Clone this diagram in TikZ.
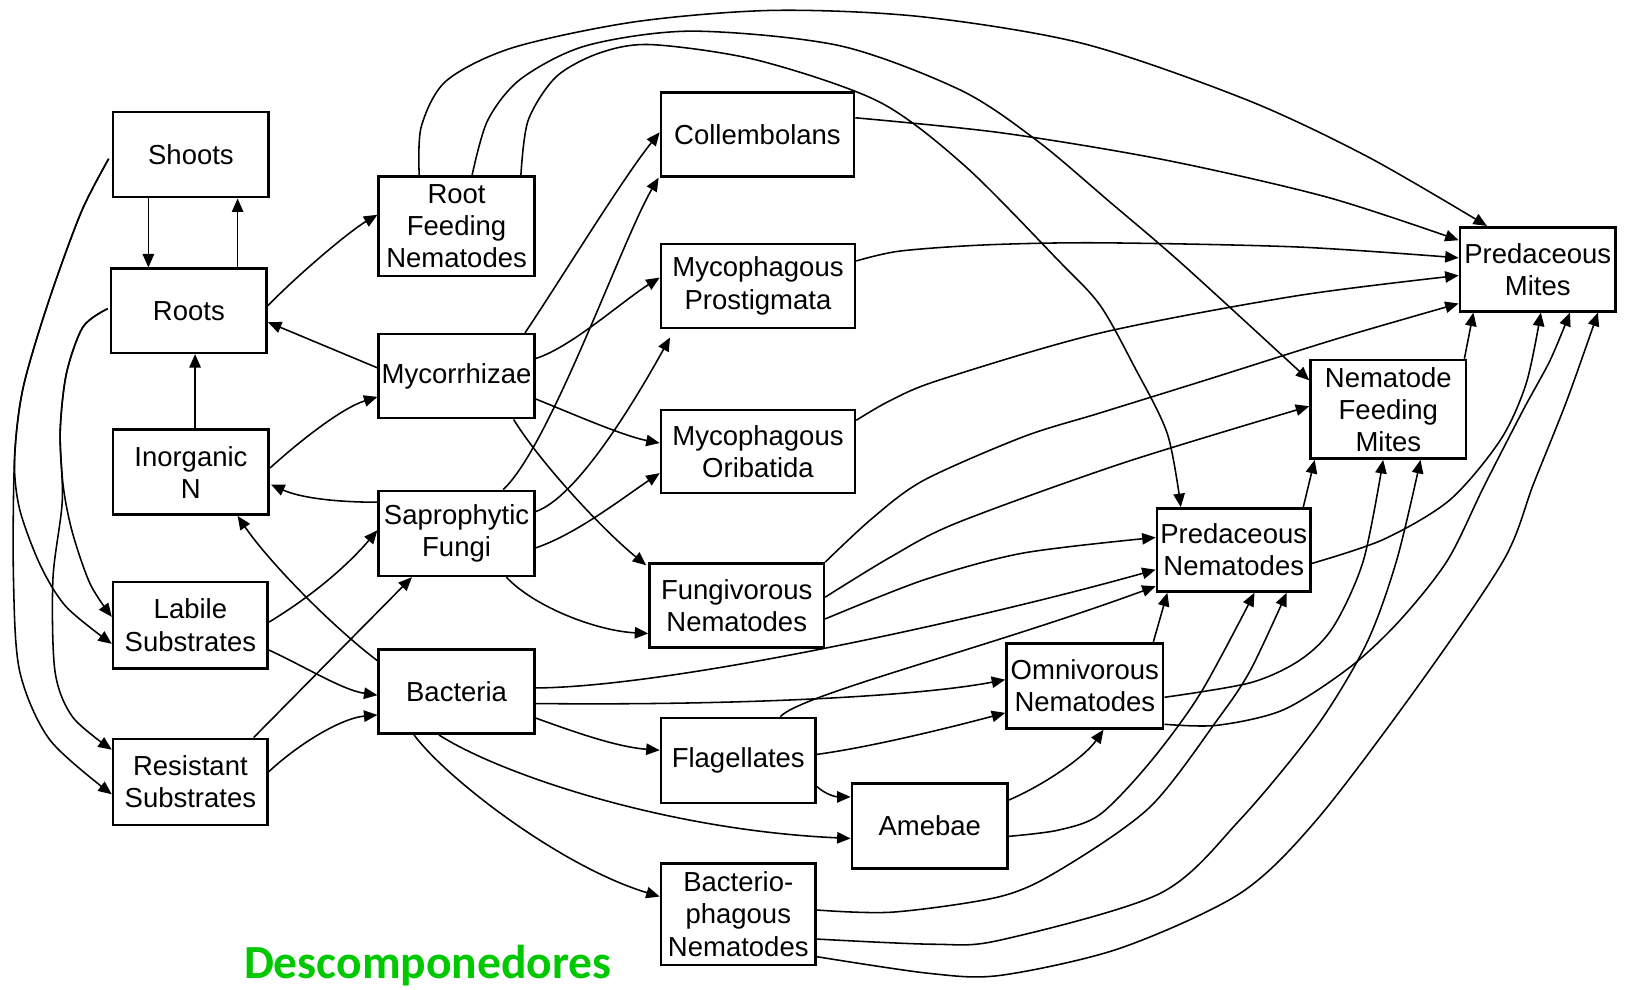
\documentclass[tikz,border=0pt]{standalone}
\usepackage{fontspec}
\setmainfont{Liberation Sans}
\newfontfamily\greenfont{Carlito}
\usetikzlibrary{arrows.meta,calc}
\definecolor{dgreen}{RGB}{0,200,0}
\begin{document}
\begin{tikzpicture}[x=1pt,y=-1pt,
  box/.style={draw, line width=2.5pt, rectangle, inner sep=0pt, align=center,
    font=\fontsize{26.5}{31}\selectfont},
  link/.style={line width=1.5pt, -{Triangle[length=13pt,width=11pt]}},
  lbl/.style={anchor=base west, inner sep=0pt, text=dgreen,
    font=\greenfont\bfseries\fontsize{45.8}{50}\selectfont}
]
\useasboundingbox (0,0) rectangle (1568,954);

% ---------- nodes ----------
\node[box, minimum width=150pt, minimum height=82pt] (Shoots) at (184,149) {Shoots};
\node[box, minimum width=150pt, minimum height=81pt] (Roots) at (182,299.5) {Roots};
\node[box, minimum width=150pt, minimum height=82pt] (InN) at (184,455) {Inorganic\\N};
\node[box, minimum width=149pt, minimum height=83pt] (Labile) at (183.5,602.5) {Labile\\Substrates};
\node[box, minimum width=149pt, minimum height=83pt] (Resist) at (183.5,753.5) {Resistant\\Substrates};
\node[box, minimum width=150pt, minimum height=96pt] (RFN) at (440,218) {Root\\Feeding\\Nematodes};
\node[box, minimum width=150pt, minimum height=81pt] (Myc) at (440,362.5) {Mycorrhizae};
\node[box, minimum width=150pt, minimum height=82pt] (SF) at (440,514) {Saprophytic\\Fungi};
\node[box, minimum width=150pt, minimum height=81pt] (Bact) at (440,666.5) {Bacteria};
\node[box, minimum width=186pt, minimum height=81pt] (Coll) at (730,129.5) {Collembolans};
\node[box, minimum width=187pt, minimum height=81pt] (MP) at (730.5,275.5) {Mycophagous\\Prostigmata};
\node[box, minimum width=187pt, minimum height=80pt] (MO) at (730.5,435) {Mycophagous\\Oribatida};
\node[box, minimum width=168pt, minimum height=81pt] (Fung) at (710,583.5) {Fungivorous\\Nematodes};
\node[box, minimum width=149pt, minimum height=82pt] (Flag) at (711.5,733) {Flagellates};
\node[box, minimum width=150pt, minimum height=82pt] (Ameb) at (896,796) {Amebae};
\node[box, minimum width=149pt, minimum height=98pt] (BN) at (711.5,881) {Bacterio-\\phagous\\Nematodes};
\node[box, minimum width=151pt, minimum height=82pt] (Omni) at (1045.5,661) {Omnivorous\\Nematodes};
\node[box, minimum width=148pt, minimum height=80pt] (PN) at (1189,530) {Predaceous\\Nematodes};
\node[box, minimum width=150pt, minimum height=95pt] (NFM) at (1338,394.5) {Nematode\\Feeding\\Mites};
\node[box, minimum width=150pt, minimum height=81pt] (PM) at (1482,259.5) {Predaceous\\Mites};
\node[lbl] (Desc) at (235,943) {Descomponedores};

% ---------- left column ----------
\draw[link] ($(Shoots.south)+(-41,0)$) -- ($(Roots.north)+(-39,0)$);
\draw[link] ($(Roots.north)+(47,0)$) -- ($(Shoots.south)+(45,0)$);
\draw[link] ($(InN.north)+(4,0)$) -- ($(Roots.south)+(6,0)$);
\draw[link] ($(Roots.east)+(0,-5)$) .. controls (290,262) and (338,222) .. ($(RFN.west)+(0,-11)$);
\draw[link] ($(Myc.west)+(0,-8)$) -- ($(Roots.east)+(0,11)$);
\draw[link] ($(InN.east)+(0,-4)$) .. controls (290,424) and (330,393) .. ($(Myc.west)+(0,20)$);
\draw[link] ($(SF.west)+(0,-30)$) .. controls (325,484) and (290,480) .. ($(InN.east)+(1,12)$);
\draw[link] ($(Bact.north west)+(0,12)$) .. controls (318,602) and (258,540) .. ($(InN.south)+(45,0)$);
\draw[link] ($(Labile.east)+(0,-3)$) .. controls (300,575) and (335,545) .. ($(SF.west)+(0,-3)$);
\draw[link] ($(Labile.east)+(0,24)$) .. controls (295,643) and (330,665) .. ($(Bact.west)+(0,3.5)$);
\draw[link] ($(Resist.north)+(61,0)$) -- ($(SF.south)+(-43,0)$);
\draw[link] ($(Resist.east)+(0,-10)$) .. controls (290,715) and (330,692) .. ($(Bact.west)+(0,22.5)$);

% long curves on the far left
\draw[link] plot[smooth] coordinates {($(Shoots.west)+(-3,4)$) (78,205) (46,293) (22,375) (14,443) (19,491) (39,545) (64,585) ($(Labile.west)+(0,18)$)};
\draw[link] plot[smooth] coordinates {($(Shoots.west)+(-3,4)$) (78,205) (46,293) (22,375) (14,443) (13,558) (19,647) (48,713) ($(Resist.west)+(0,12)$)};
\draw[link] plot[smooth] coordinates {($(Roots.west)+(-2,-2)$) (80,315) (64,360) (58,416) (61,469) (70,514) (87,563) ($(Labile.west)+(0,-8)$)};
\draw[link] plot[smooth] coordinates {($(Roots.west)+(-2,-2)$) (80,315) (64,360) (58,416) (60,483) (51,558) (53,647) (70,691) ($(Resist.west)+(0,-31)$)};

% ---------- fungi / mycorrhizae to consumers ----------
\draw[link] ($(Myc.north)+(66,0)$) .. controls (540,270) and (600,172) .. ($(Coll.west)+(0,-2)$);
\draw[link] ($(SF.north)+(45,0)$) .. controls (530,430) and (600,230) .. ($(Coll.south west)+(-1,0)$);
\draw[link] ($(Myc.east)+(0,-17)$) .. controls (550,335) and (600,290) .. ($(MP.west)+(0,-8)$);
\draw[link] ($(SF.east)+(0,-21)$) .. controls (555,480) and (610,390) .. ($(MP.south west)+(10,8)$);
\draw[link] ($(Myc.east)+(0,22)$) .. controls (550,398) and (600,420) .. ($(MO.west)+(0,-8)$);
\draw[link] ($(SF.east)+(0,14)$) .. controls (555,515) and (600,480) .. ($(MO.west)+(0,21)$);
\draw[link] ($(Myc.south)+(55,0)$) .. controls (520,445) and (580,510) .. ($(Fung.north west)+(-2,3)$);
\draw[link] ($(SF.south)+(48,0)$) .. controls (515,585) and (575,608) .. ($(Fung.west)+(0,27)$);

% ---------- bacteria ----------
\draw[link] ($(Bact.east)+(0,25.5)$) .. controls (555,706) and (595,720) .. ($(Flag.west)+(0,-10)$);
\draw[link] ($(Bact.south)+(-17,0)$) .. controls (480,745) and (640,800) .. ($(Ameb.west)+(0,12)$);
\draw[link] ($(Bact.south)+(-41,0)$) .. controls (430,750) and (540,835) .. ($(BN.west)+(0,-17)$);
\draw[link] ($(Bact.east)+(0,11.5)$) .. controls (700,680) and (880,672) .. ($(Omni.west)+(0,-6)$);
\draw[link] ($(Bact.east)+(0,-3.5)$) .. controls (650,662) and (950,595) .. ($(PN.west)+(0,19)$);

% ---------- protozoa ----------
\draw[link] ($(Flag.north)+(40.5,0)$) .. controls (770,670) and (950,625) .. ($(PN.west)+(0,35)$);
\draw[link] ($(Flag.east)+(0,-6)$) .. controls (840,720) and (920,700) .. ($(Omni.west)+(0,26)$);
\draw[link] ($(Flag.east)+(0,25)$) .. controls (796,766) and (806,768) .. ($(Ameb.west)+(0,-28)$);
\draw[link] ($(Ameb.east)+(0,-25)$) .. controls (1005,757) and (1045,730) .. ($(Omni.south)+(18,0)$);
\draw[link] plot[smooth] coordinates {($(Ameb.east)+(0,10)$) (1020,800) (1060,785) (1108,735) (1157,668) ($(PN.south)+(20,0)$)};

% ---------- bacteriophagous nematodes ----------
\draw[link] plot[smooth] coordinates {($(BN.east)+(0,-4)$) (861,879) (964,864) (1022,838) (1108,778) (1173,694) (1205,646) ($(PN.south)+(51,0)$)};
\draw[link] plot[smooth] coordinates {($(BN.east)+(0,24)$) (900,910) (964,906) (1118,861) (1195,790) (1269,700) (1317,620) (1346,540) ($(NFM.south)+(31,0)$)};
\draw[link] plot[smooth] coordinates {($(BN.east)+(0,41)$) (895,938) (964,940) (1079,914) (1195,861) (1269,790) (1366,662) (1449,540) (1478,466) (1510,386) ($(PM.south)+(58,0)$)};

% ---------- omnivorous / predaceous nematodes ----------
\draw[link] plot[smooth] coordinates {($(Omni.east)+(0,11)$) (1205,658) (1253,636) (1285,604) (1314,540) ($(NFM.south)+(-5,0)$)};
\draw[link] plot[smooth] coordinates {($(Omni.east)+(0,37)$) (1173,699) (1237,684) (1301,643) (1349,598) (1395,540) (1430,469) (1468,395) (1494,347) ($(PM.south)+(31,0)$)};
\draw[link] ($(Omni.north)+(66,0)$) -- ($(PN.south)+(-64,0)$);
\draw[link] ($(PN.north)+(67,0)$) -- ($(NFM.south)+(-71,0)$);
\draw[link] ($(NFM.north east)+(-3,0)$) -- ($(PM.south)+(-62,0)$);
\draw[link] plot[smooth] coordinates {($(PN.east)+(0,13)$) (1333,520) (1397,482) (1446,424) (1471,369) ($(PM.south)+(3,0)$)};

% ---------- microarthropods to predaceous mites ----------
\draw[link] plot[smooth] coordinates {($(Coll.east)+(0,-16)$) (965,128) (1122,154) (1279,190) ($(PM.west)+(0,-28)$)};
\draw[link] plot[smooth] coordinates {($(MP.east)+(0,-24)$) (867,242) (950,236) (1060,234) (1250,238) ($(PM.west)+(0,-11)$)};
\draw[link] plot[smooth] coordinates {($(MO.east)+(0,-30)$) (858,386) (906,366) (1060,321) (1250,285) ($(PM.west)+(0,6)$)};
\draw[link] plot[smooth] coordinates {($(Fung.north east)$) (840,500) (890,463) (986,421) (1060,398) (1163,366) (1290,326) ($(PM.west)+(0,33)$)};
\draw[link] plot[smooth] coordinates {($(Fung.east)+(0,-8)$) (858,537) (922,504) (1083,446) ($(NFM.west)+(0,-3)$)};
\draw[link] plot[smooth] coordinates {($(Fung.east)+(0,13)$) (890,559) (986,533) ($(PN.west)+(0,-12)$)};

% ---------- arcs from root feeding nematodes ----------
\draw[link] plot[smooth] coordinates {($(RFN.north)+(-36,0)$) (406,122) (430,78) (494,46) (612,21) (745,10) (887,16) (1044,42) (1201,96) (1318,151) ($(PM.north)+(-49,0)$)};
\draw[link] plot[smooth] coordinates {($(RFN.north)+(15,0)$) (470,116) (502,76) (565,44) (667,30) (809,44) (926,87) (1000,136) (1070,195) (1140,255) ($(NFM.west)+(0,-28)$)};
\draw[link] plot[smooth] coordinates {($(RFN.north)+(62,0)$) (509,116) (536,74) (578,51) (628,43) (730,58) (847,98) (930,160) (1020,251) (1060,294) (1093,353) (1125,418) ($(PN.north)+(-51,0)$)};
\end{tikzpicture}
\end{document}
